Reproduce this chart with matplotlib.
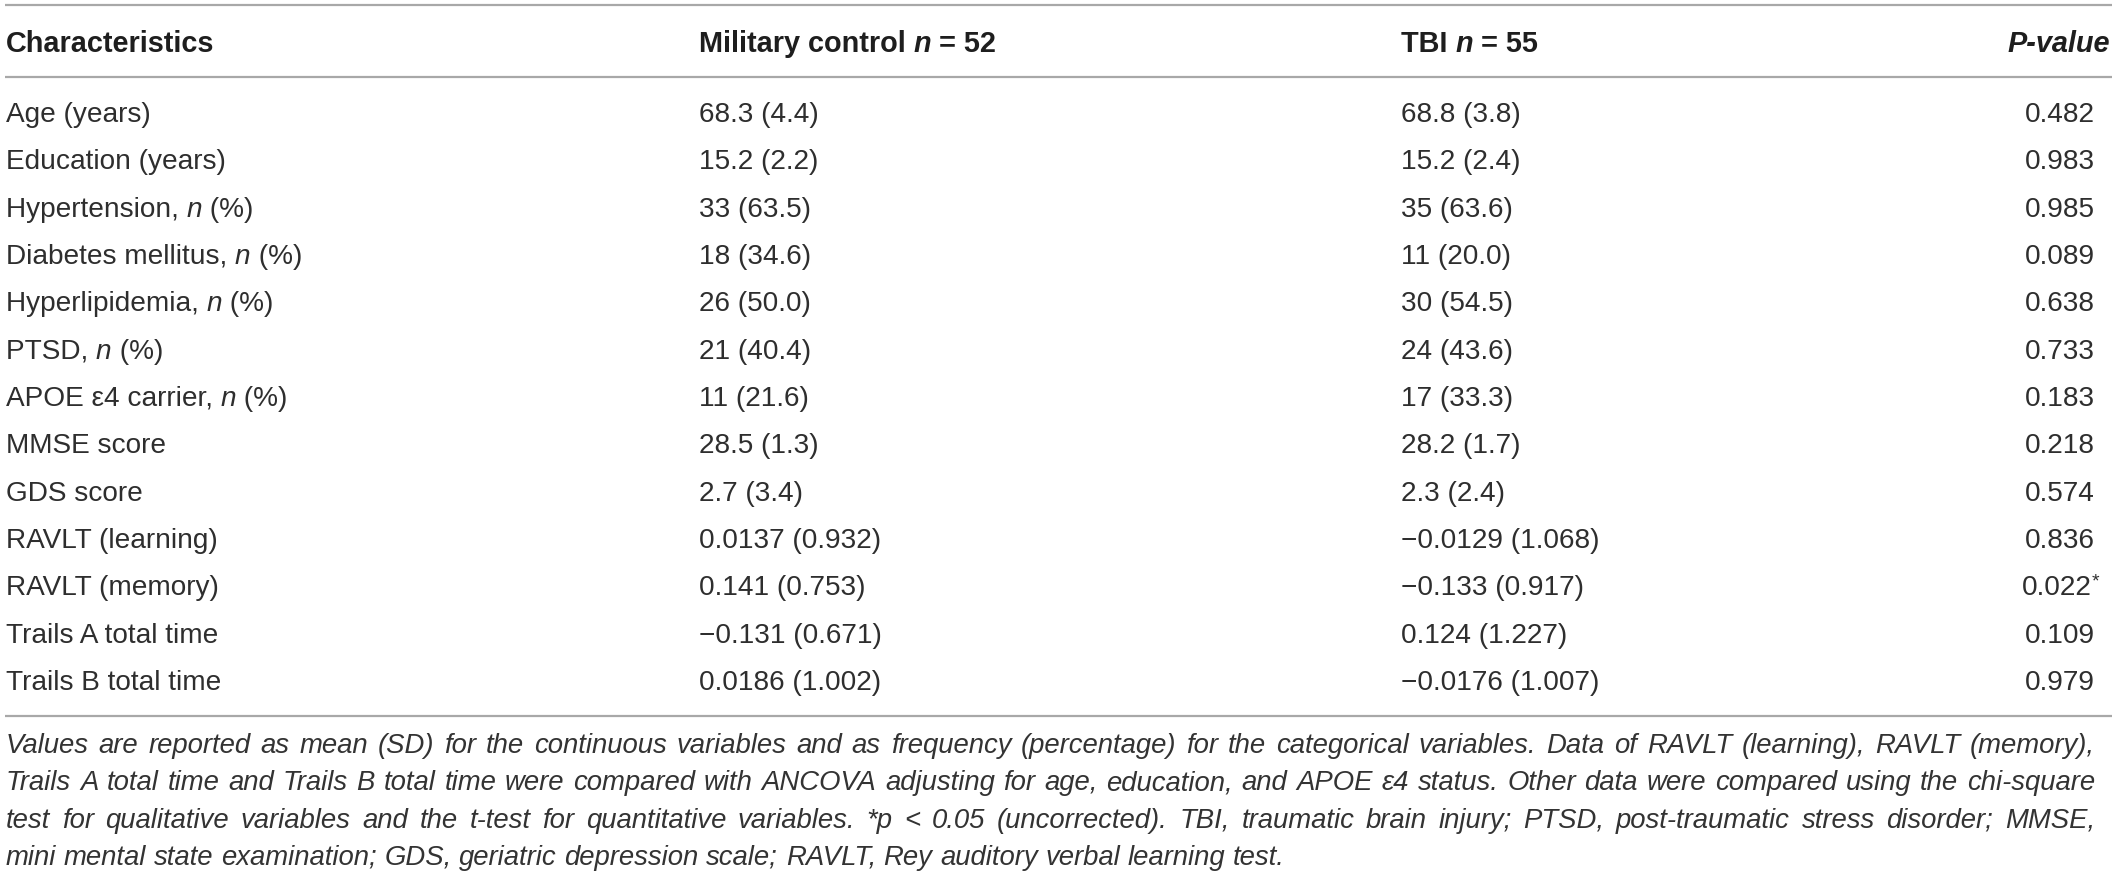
import re
import matplotlib
matplotlib.use('Agg')
import matplotlib.pyplot as plt
from matplotlib import font_manager

# table data
col_headers = ["Characteristics", "Military control {n} = 52", "TBI {n} = 55", "P-value"]
characteristics = ["Age (years)", "Education (years)", "Hypertension, {n} (%)",
                   "Diabetes mellitus, {n} (%)", "Hyperlipidemia, {n} (%)", "PTSD, {n} (%)",
                   "APOE \u03b54 carrier, {n} (%)", "MMSE score", "GDS score",
                   "RAVLT (learning)", "RAVLT (memory)", "Trails A total time",
                   "Trails B total time"]
military = ["68.3 (4.4)", "15.2 (2.2)", "33 (63.5)", "18 (34.6)", "26 (50.0)", "21 (40.4)",
            "11 (21.6)", "28.5 (1.3)", "2.7 (3.4)", "0.0137 (0.932)", "0.141 (0.753)",
            "\u22120.131 (0.671)", "0.0186 (1.002)"]
tbi = ["68.8 (3.8)", "15.2 (2.4)", "35 (63.6)", "11 (20.0)", "30 (54.5)", "24 (43.6)",
       "17 (33.3)", "28.2 (1.7)", "2.3 (2.4)", "\u22120.0129 (1.068)", "\u22120.133 (0.917)",
       "0.124 (1.227)", "\u22120.0176 (1.007)"]
p_values = ["0.482", "0.983", "0.985", "0.089", "0.638", "0.733", "0.183", "0.218",
            "0.574", "0.836", "0.022*", "0.109", "0.979"]
footnote = [
    "Values are reported as mean (SD) for the continuous variables and as frequency (percentage) for the categorical variables. Data of RAVLT (learning), RAVLT (memory),",
    "Trails A total time and Trails B total time were compared with ANCOVA adjusting for age, education, and APOE \u03b54 status. Other data were compared using the chi-square",
    "test for qualitative variables and the t-test for quantitative variables. *p < 0.05 (uncorrected). TBI, traumatic brain injury; PTSD, post-traumatic stress disorder; MMSE,",
    "mini mental state examination; GDS, geriatric depression scale; RAVLT, Rey auditory verbal learning test.",
]

W, H = 2118, 876
fig = plt.figure(figsize=(W / 100, H / 100), dpi=100)
ax = fig.add_axes([0, 0, 1, 1])
ax.set_xlim(0, W)
ax.set_ylim(H, 0)
ax.axis('off')
renderer = fig.canvas.get_renderer()

FAM = 'Liberation Sans'
installed = {f.name for f in font_manager.fontManager.ttflist}
NOTE_FAM = 'Liberation Sans Narrow' if 'Liberation Sans Narrow' in installed else FAM

body = dict(family=FAM, fontsize=20.2, color='#2e2e2e')
head = dict(family=FAM, fontsize=20.8, color='#1e1e1e', fontweight='bold')
note = dict(family=NOTE_FAM, fontsize=19.0, color='#333333', style='italic')


def text_width(s, **kw):
    t = ax.text(0, 0, s, **kw)
    w = t.get_window_extent(renderer).width
    t.remove()
    return w


def adv(s, **kw):
    # advance width incl. spaces
    return text_width('|' + s + '|', **kw) - text_width('||', **kw)


def draw_pieces(x, y, pieces, ha='left'):
    widths = [adv(s, **kw) for s, kw, _ in pieces]
    if ha == 'right':
        x -= sum(widths)
    for (s, kw, rise), w in zip(pieces, widths):
        ax.text(x, y - rise, s, va='baseline', ha='left', **kw)
        x += w


def rich(label, base):
    # split on {n} -> italic n
    out = []
    parts = re.split(r'(\{n\})', label)
    for p in parts:
        if p == '{n}':
            out.append(('n', dict(base, style='italic'), 0))
        elif p:
            out.append((p, base, 0))
    return out


x_cols = [6, 699, 1401]
x_p_head, x_p = 2110, 2095

# rules
for yy in [5, 77, 716]:
    ax.plot([5, 2112], [yy, yy], color='#a8a8a8', lw=1.6, solid_capstyle='butt')

# header
y_head = 52
for i in range(3):
    draw_pieces(x_cols[i], y_head, rich(col_headers[i], head))
ax.text(x_p_head, y_head, col_headers[3], ha='right', va='baseline',
        **dict(head, style='italic'))

# rows
y0, dy = 122, 47.33
for i in range(len(characteristics)):
    y = y0 + i * dy
    draw_pieces(x_cols[0], y, rich(characteristics[i], body))
    ax.text(x_cols[1], y, military[i], ha='left', va='baseline', **body)
    ax.text(x_cols[2], y, tbi[i], ha='left', va='baseline', **body)
    pv = p_values[i]
    if pv.endswith('*'):
        pieces = [(pv[:-1], body, 0), ('*', dict(body, fontsize=14), 9)]
        draw_pieces(x_p + 4, y, pieces, ha='right')
    else:
        ax.text(x_p, y, pv, ha='right', va='baseline', **body)

# footnote: size fitted to the widest line, then justified
fx0, fx1 = 6, 2095
fy0, fdy = 753, 37.3
natural = max(adv(l, **note) for l in footnote[:-1])
note['fontsize'] = min(20.2, note['fontsize'] * (fx1 - fx0) / natural * 0.985)
space_w = adv(' ', **note)
for j, line in enumerate(footnote):
    y = fy0 + j * fdy
    words = line.split(' ')
    ws = [text_width(w, **note) for w in words]
    if j < len(footnote) - 1:
        gap = (fx1 - fx0 - sum(ws)) / (len(words) - 1)
    else:
        gap = space_w
    x = fx0
    for w, wd in zip(words, ws):
        ax.text(x, y, w, ha='left', va='baseline', **note)
        x += wd + gap

fig.savefig('out.png', dpi=100)
